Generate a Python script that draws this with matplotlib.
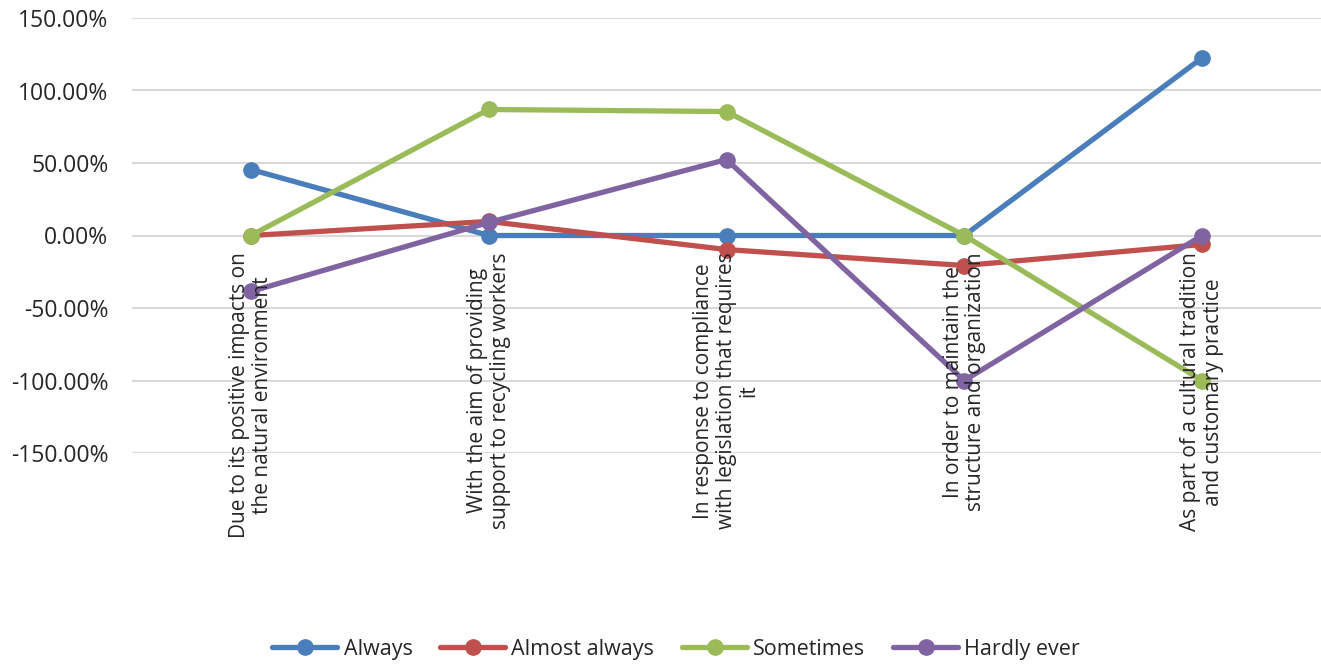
import matplotlib
matplotlib.use("Agg")
import matplotlib.pyplot as plt
import numpy as np

plt.rcParams['font.family'] = ['Open Sans', 'DejaVu Sans']

categories = [
    "Due to its positive impacts on\nthe natural environment",
    "With the aim of providing\nsupport to recycling workers",
    "In response to compliance\nwith legislation that requires\nit",
    "In order to maintain the\nstructure and organization",
    "As part of a cultural tradition\nand customary practice",
]
always = [45.5, 0.0, 0.0, 0.0, 122.5]
almost_always = [0.0, 9.7, -9.7, -20.7, -6.2]
sometimes = [0.0, 86.9, 85.5, 0.0, -100.0]
hardly_ever = [-38.6, 9.0, 52.4, -100.0, 0.0]
yticks = [-150, -100, -50, 0, 50, 100, 150]

series = [
    ("Always", always, "#4A7EBB"),
    ("Almost always", almost_always, "#C0504D"),
    ("Sometimes", sometimes, "#9BBB59"),
    ("Hardly ever", hardly_ever, "#8064A2"),
]

fig = plt.figure(figsize=(13.21, 6.64), dpi=100)
ax = fig.add_axes([132 / 1321, 1 - 453 / 664, 1 - 132 / 1321, (453 - 18) / 664])

x = np.arange(len(categories))
for name, vals, col in series:
    ax.plot(x, vals, color=col, lw=3.8, marker='o', ms=11, label=name,
            solid_capstyle='round', zorder=3)

ax.set_xlim(-0.5, len(categories) - 0.5)
ax.set_ylim(-150, 150)
ax.set_yticks(yticks)
ax.set_yticklabels([f"{v:.2f}%" for v in yticks])
ax.yaxis.grid(True, color='#D9D9D9', lw=1.5)
ax.set_axisbelow(True)
ax.tick_params(axis='y', length=0, pad=17, labelsize=16.5, labelcolor='#262626')
ax.set_xticks([])
for s in ax.spines.values():
    s.set_visible(False)

for i, lab in enumerate(categories):
    ax.annotate(lab, xy=(i, 0), xytext=(0, -17), textcoords='offset pixels',
                rotation=90, ha='center', va='top', multialignment='center',
                fontsize=15, color='#262626', annotation_clip=False,
                linespacing=1.1)

fig.legend(loc='center', bbox_to_anchor=(0.512, 0.022), ncol=4, frameon=False,
           fontsize=15.5, handlelength=3.0, columnspacing=1.3, handletextpad=0.3,
           numpoints=1, labelcolor='#262626')

fig.savefig("out.png", dpi=100)
